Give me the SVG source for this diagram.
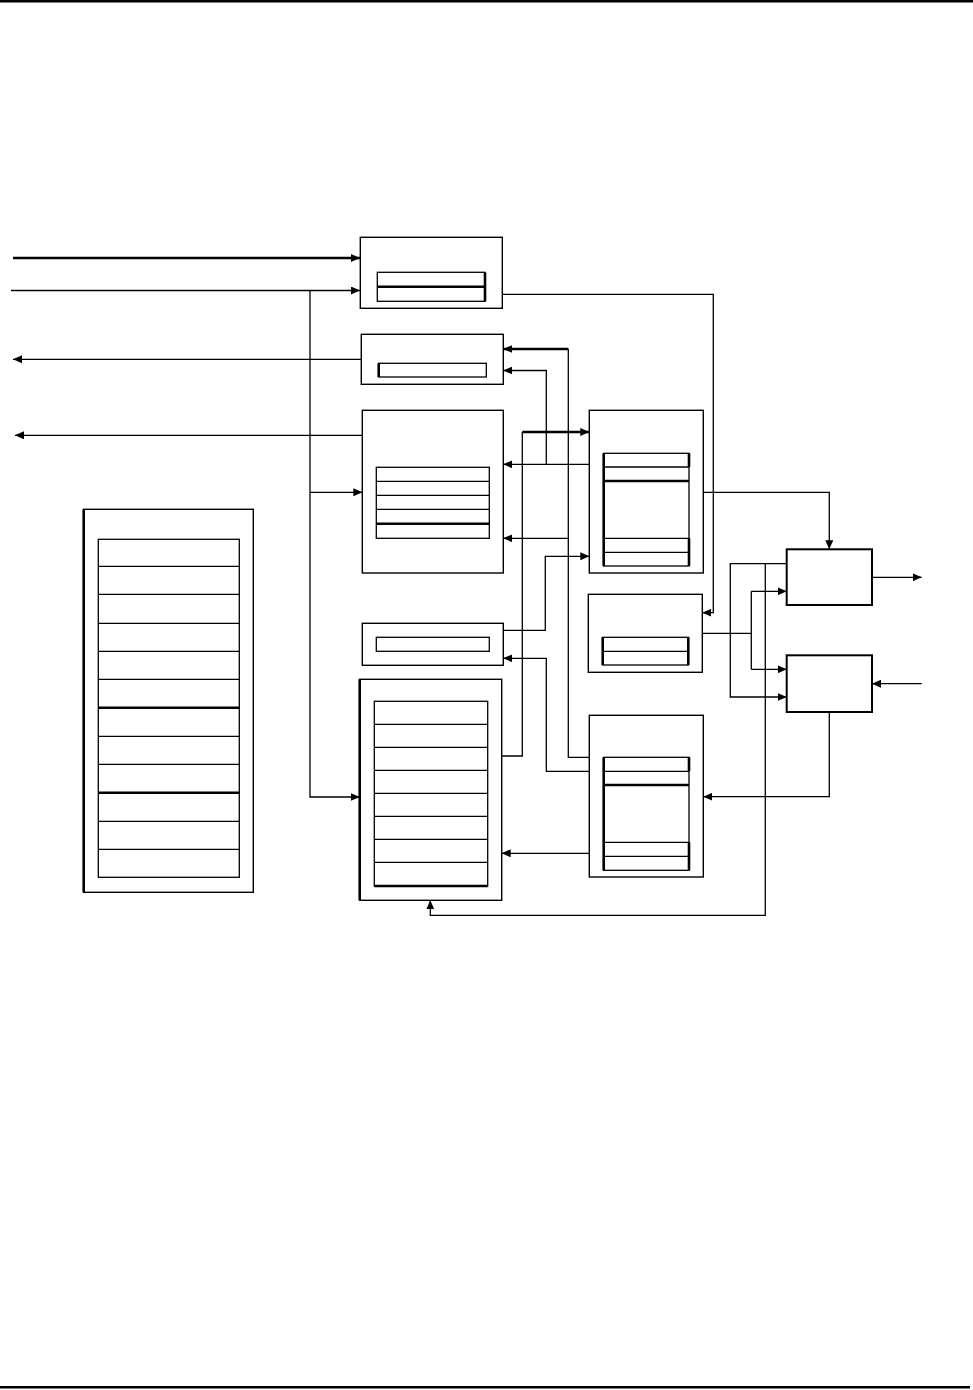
<svg xmlns="http://www.w3.org/2000/svg" width="973" height="1390" viewBox="0 0 973 1390">
<style>
.b{fill:#fff;stroke:#000;stroke-width:1.4}
.t{fill:none;stroke:#000;stroke-width:2.6}
.l{fill:none;stroke:#000;stroke-width:1.3}
.c{fill:none;stroke:#000;stroke-width:1.3}
.k{fill:none;stroke:#000;stroke-width:2.6}
</style>
<defs>
<marker id="a" markerWidth="10" markerHeight="8" refX="9" refY="4" orient="auto" markerUnits="userSpaceOnUse"><path d="M0,0 L9,4 L0,8 z" fill="#000"/></marker>
</defs>
<rect x="0" y="0" width="973" height="2.5" fill="#000"/>
<rect x="0" y="1386" width="970" height="2.5" fill="#000"/>

<g id="nodeA">
<rect class="b" x="360.3" y="237.3" width="142" height="71"/>
<rect class="l" x="377.3" y="272.3" width="107.7" height="29"/>
<line class="k" x1="377.3" y1="286.7" x2="485" y2="286.7"/>
<line class="k" x1="485" y1="272.3" x2="485" y2="301.3"/>
</g>
<g id="nodeB">
<rect class="b" x="361.3" y="334.3" width="142" height="50"/>
<rect class="l" x="378.7" y="363.3" width="107.6" height="13.7"/>
<line class="k" x1="378.7" y1="363.3" x2="378.7" y2="377"/>
</g>
<g id="nodeC">
<rect class="b" x="362.3" y="410.3" width="141" height="162.7"/>
<rect class="l" x="376.3" y="467.3" width="113" height="71"/>
<path class="l" d="M376.3,481.3H489.3M376.3,495.3H489.3M376.3,509.3H489.3"/>
<line class="k" x1="376.3" y1="523.7" x2="489.3" y2="523.7"/>
</g>
<g id="nodeD">
<rect class="b" x="589.3" y="410.3" width="114" height="162.7"/>
<rect class="l" x="603.7" y="453.3" width="85.3" height="112.7"/>
<path class="l" d="M603.7,467H689M603.7,538.3H689M603.7,552.3H689"/>
<path class="k" d="M603.7,481H689M603.7,453.3V566M689,453.3V467M689,538.3V566"/>
</g>
<g id="nodeE">
<rect x="786.7" y="549.3" width="85.3" height="55.7" fill="#fff" stroke="#000" stroke-width="2"/>
</g>
<g id="nodeF">
<rect class="b" x="588.3" y="594.3" width="114" height="78"/>
<rect class="l" x="602.7" y="637.3" width="85.6" height="27.7"/>
<line class="l" x1="602.7" y1="651.3" x2="688.3" y2="651.3"/>
<path class="k" d="M602.7,637.3V665M688.3,637.3V665"/>
</g>
<g id="nodeG">
<rect class="b" x="362.3" y="623.3" width="141" height="42"/>
<rect class="l" x="376.3" y="637.3" width="113" height="14"/>
</g>
<g id="nodeH">
<rect x="786.7" y="655.3" width="85.3" height="56.7" fill="#fff" stroke="#000" stroke-width="2"/>
</g>
<g id="nodeI">
<rect class="b" x="589.3" y="715.3" width="114" height="161.7"/>
<rect class="l" x="603.7" y="757.3" width="85.3" height="113"/>
<path class="l" d="M603.7,771.3H689M603.7,842.3H689M603.7,856.3H689"/>
<path class="k" d="M603.7,785H689M603.7,757.3V870.3M689,757.3V771.3M689,842.3V870.3"/>
</g>
<g id="nodeJ">
<rect class="b" x="359.7" y="679.3" width="142" height="221"/>
<line class="k" x1="359.7" y1="679.3" x2="359.7" y2="900.3"/>
<rect class="l" x="374.3" y="701.3" width="113.4" height="184.7"/>
<path class="l" d="M374.3,724.3H487.7M374.3,747.3H487.7M374.3,770.3H487.7M374.3,793.3H487.7M374.3,816.3H487.7M374.3,839.3H487.7M374.3,862.3H487.7"/>
<line class="k" x1="374.3" y1="886" x2="487.7" y2="886"/>
</g>
<g id="nodeK">
<rect class="b" x="83.7" y="509.3" width="169.6" height="383"/>
<line class="k" x1="83.7" y1="509.3" x2="83.7" y2="892.3"/>
<rect class="l" x="98.3" y="539.3" width="141" height="338"/>
<path class="l" d="M98.3,566.3H239.3M98.3,594.3H239.3M98.3,623.3H239.3M98.3,651.3H239.3M98.3,679.3H239.3M98.3,736.3H239.3M98.3,764.3H239.3M98.3,821.3H239.3M98.3,849.3H239.3"/>
<path class="k" d="M98.3,707.7H239.3M98.3,792.7H239.3"/>
</g>

<g id="connectors">
<path class="t" d="M13,258H360" marker-end="url(#a)"/>
<path class="c" d="M11,290.5H360" marker-end="url(#a)"/>
<path class="c" d="M310,290.5V797H359.7" marker-end="url(#a)"/>
<path class="c" d="M310,492.3H362.3" marker-end="url(#a)"/>
<path class="c" d="M361.3,359.3H13" marker-end="url(#a)"/>
<path class="c" d="M362.3,435.3H15" marker-end="url(#a)"/>
<path class="c" d="M502.3,294.3H713.3V612.7H702.3" marker-end="url(#a)"/>
<path class="c" d="M589.3,757.3H568.3V349"/>
<path class="t" d="M568.3,349H503.3" marker-end="url(#a)"/>
<path class="c" d="M568.3,538.3H503.3" marker-end="url(#a)"/>
<path class="c" d="M589.3,771.3H546.3V658.3H503.3" marker-end="url(#a)"/>
<path class="c" d="M589.3,464.3H503.3" marker-end="url(#a)"/>
<path class="c" d="M546.3,464.3V370.5H503.3" marker-end="url(#a)"/>
<path class="c" d="M501.7,756H522.3V432"/>
<path class="t" d="M522.3,432H589.3" marker-end="url(#a)"/>
<path class="c" d="M503.3,630.3H545.3V556.3H589.3" marker-end="url(#a)"/>
<path class="c" d="M703.3,492.3H829.3V549.3" marker-end="url(#a)"/>
<path class="c" d="M872,577.3H921.7" marker-end="url(#a)"/>
<path class="c" d="M921.7,683.7H872" marker-end="url(#a)"/>
<path class="c" d="M702.3,633.3H751.3M751.3,591.3V669.3"/>
<path class="c" d="M751.3,591.3H786.7" marker-end="url(#a)"/>
<path class="c" d="M751.3,669.3H786.7" marker-end="url(#a)"/>
<path class="c" d="M786.7,563.7H730.3V697H786.7" marker-end="url(#a)"/>
<path class="c" d="M765.3,563.7V915.3H430.3V900.3" marker-end="url(#a)"/>
<path class="c" d="M829.3,712V796.7H703.3" marker-end="url(#a)"/>
<path class="c" d="M589.3,853.3H501.7" marker-end="url(#a)"/>
</g>
</svg>
